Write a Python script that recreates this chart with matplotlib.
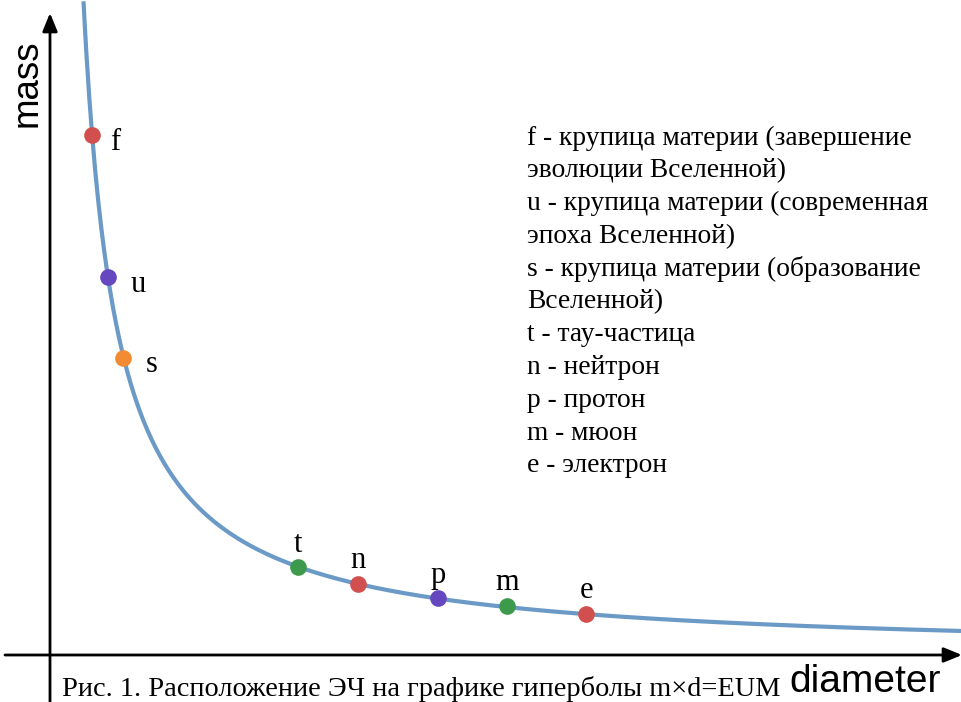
import numpy as np
import matplotlib.pyplot as plt

# Гипербола m*d = EUM (условные единицы)
EUM = 2.19
d_curve = np.linspace(0.335, 9.2, 600)

# Положение частиц на кривой
names = ['f', 'u', 's', 't', 'n', 'p', 'm', 'e']
diam = [0.42, 0.58, 0.73, 2.48, 3.08, 3.88, 4.57, 5.36]
mass = [5.20, 3.78, 2.97, 0.88, 0.71, 0.57, 0.49, 0.41]
colors = ['#d24f4f', '#6548c0', '#f28c32', '#3d9a4c',
          '#d24f4f', '#6548c0', '#3d9a4c', '#d24f4f']

legend_lines = [
    "f - крупица материи (завершение",
    "эволюции Вселенной)",
    "u - крупица материи (современная",
    "эпоха Вселенной)",
    "s - крупица материи (образование",
    "Вселенной)",
    "t - тау-частица",
    "n - нейтрон",
    "p - протон",
    "m - мюон",
    "e - электрон",
]
caption = "Рис. 1. Расположение ЭЧ на графике гиперболы m×d=EUM"

# смещения подписей точек (в пикселях)
label_offsets = {'f': (23, -7), 'u': (30, -8), 's': (29, -6)}

fig = plt.figure(figsize=(9.61, 7.02), dpi=100)
ax = fig.add_axes([0, 0, 1, 1])
ax.set_xlim(-0.5, 9.11)
ax.set_ylim(-0.47, 6.55)
ax.axis('off')

# оси со стрелками
arrow = dict(arrowstyle='-|>,head_length=1.1,head_width=0.45',
             color='black', lw=2, shrinkA=0, shrinkB=0)
ax.annotate('', xy=(0, 6.42), xytext=(0, -0.47), arrowprops=arrow,
            annotation_clip=False)
ax.annotate('', xy=(9.12, 0), xytext=(-0.45, 0), arrowprops=arrow,
            annotation_clip=False)

ax.plot(d_curve, EUM / d_curve, color='#6b9ac6', lw=3, solid_capstyle='butt')

for n, x, y, c in zip(names, diam, mass, colors):
    ax.plot(x, y, 'o', color=c, markersize=12, markeredgewidth=0, zorder=3)
    off = label_offsets.get(n, (0, 23))
    ax.annotate(n, (x, y), xytext=off, textcoords='offset pixels',
                ha='center', va='center', fontsize=22,
                family='Liberation Serif')

ax.text(-0.23, 5.72, 'mass', rotation=90, ha='center', va='center',
        fontsize=26.5, family='Liberation Sans')
ax.text(8.15, -0.27, 'diameter', ha='center', va='center',
        fontsize=28, family='Liberation Sans')

for i, line in enumerate(legend_lines):
    ax.text(4.77, 5.17 - i * 0.328, line, ha='left', va='center',
            fontsize=19.8, family='Liberation Serif')

ax.text(0.12, -0.34, caption, ha='left', va='center',
        fontsize=20.4, family='Liberation Serif')

fig.savefig('out.png', dpi=100)
